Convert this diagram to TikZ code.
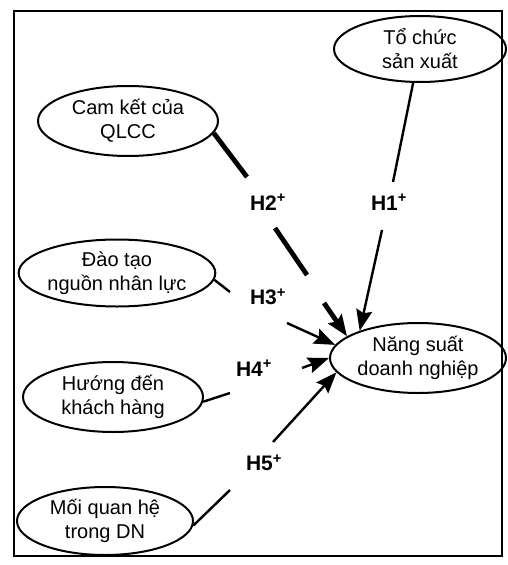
\documentclass[tikz,border=0pt]{standalone}
\usepackage{fontspec}
\setmainfont{Liberation Sans}
\usetikzlibrary{shapes.geometric,arrows.meta}
\tikzset{
  factor/.style={draw, ellipse, line width=2pt, inner sep=0pt, align=center,
    font=\fontsize{20}{24}\selectfont},
  hyp/.style={font=\bfseries\fontsize{21}{24}\selectfont, inner sep=0pt},
  link/.style={line width=2.4pt},
  thicklink/.style={line width=4.8pt},
  headed/.style={-{Stealth[length=21pt,width=16pt,inset=3pt]}},
}
\begin{document}
\begin{tikzpicture}[x=1pt,y=-1pt]
\useasboundingbox (0,0) rectangle (508,565);
\draw[line width=2.4pt] (14,11) rectangle (502,556);

\node[factor, minimum width=172pt, minimum height=66pt] (tochuc) at (420,49) {Tổ chức\\sản xuất};
\node[factor, minimum width=180pt, minimum height=70pt] (camket) at (128,121) {Cam kết của\\QLCC};
\node[factor, minimum width=176pt, minimum height=67pt] (daotao) at (117,273) {Đào tạo\\nguồn nhân lực};
\node[factor, minimum width=180pt, minimum height=70pt] (huong) at (113,397) {Hướng đến\\khách hàng};
\node[factor, minimum width=176pt, minimum height=68pt] (moi) at (105,521) {Mối quan hệ\\trong DN};
\node[factor, minimum width=176pt, minimum height=70pt] (nang) at (418,358) {Năng suất\\doanh nghiệp};

\node[hyp] (h1) at (389,202) {H1\textsuperscript{+}};
\node[hyp] (h2) at (268,202) {H2\textsuperscript{+}};
\node[hyp] (h3) at (268,297) {H3\textsuperscript{+}};
\node[hyp] (h4) at (254,368) {H4\textsuperscript{+}};
\node[hyp] (h5) at (264,463) {H5\textsuperscript{+}};

% H1
\coordinate (h1a) at (393,182);
\coordinate (h1b) at (382,230);
\draw[link] (tochuc) -- (h1a);
\draw[link, headed] (h1b) -- (nang.155);
% H2
\coordinate (h2a) at (247,177);
\coordinate (h2b) at (275,228);
\coordinate (h2c) at (307,275);
\coordinate (h2d) at (324,303);
\draw[thicklink] (camket.-8) -- (h2a);
\draw[thicklink] (h2b) -- (h2c);
\draw[thicklink, headed] (h2d) -- (nang.163);
% H3
\coordinate (h3a) at (230,292);
\coordinate (h3b) at (287,323);
\draw[link] (daotao.-4) -- (h3a);
\draw[link, headed] (h3b) -- (nang.171);
% H4
\coordinate (h4a) at (230,393);
\coordinate (h4b) at (302,368);
\draw[link] (huong.-3) -- (h4a);
\draw[link, headed] (h4b) -- (nang.180);
% H5
\coordinate (h5a) at (230,490);
\coordinate (h5b) at (273,442);
\draw[link] (moi.-3) -- (h5a);
\draw[link, headed] (h5b) -- (nang.190);
\end{tikzpicture}
\end{document}
